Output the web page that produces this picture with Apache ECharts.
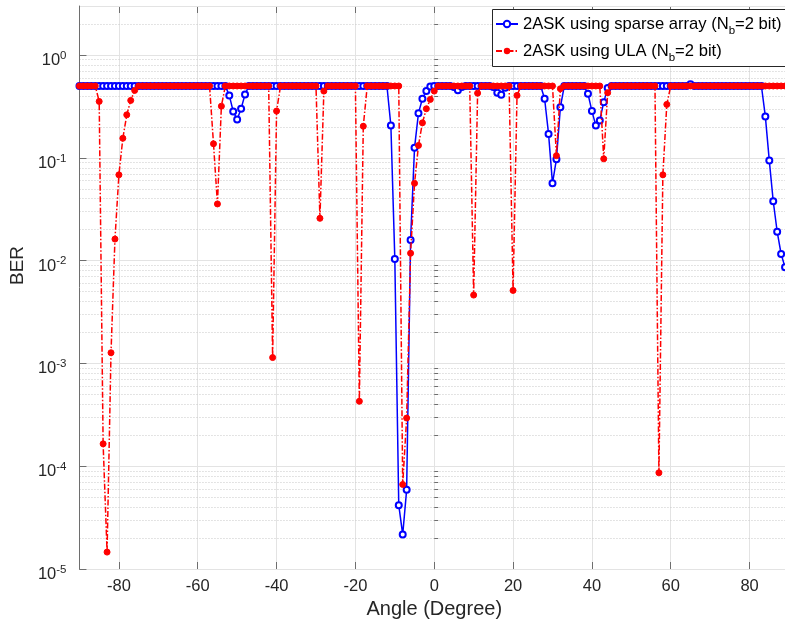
<!DOCTYPE html>
<html>
<head>
<meta charset="utf-8">
<script src="https://cdn.jsdelivr.net/npm/echarts@6/dist/echarts.min.js"></script>
<style>
html,body{margin:0;padding:0;overflow:hidden;background:#ffffff;}
#chart{width:792px;height:625px;}
</style>
</head>
<body>
<div id="chart"></div>
<script>
// Angle samples (degree)
const angles = [
  -90,-89,-88,-87,-86,-85,-84,-83,-82,-81,
  -80,-79,-78,-77,-76,-75,-74,-73,-72,-71,
  -70,-69,-68,-67,-66,-65,-64,-63,-62,-61,
  -60,-59,-58,-57,-56,-55,-54,-53,-52,-51,
  -50,-49,-48,-47,-46,-45,-44,-43,-42,-41,
  -40,-39,-38,-37,-36,-35,-34,-33,-32,-31,
  -30,-29,-28,-27,-26,-25,-24,-23,-22,-21,
  -20,-19,-18,-17,-16,-15,-14,-13,-12,-11,
  -10,-9,-8,-7,-6,-5,-4,-3,-2,-1,
  0,1,2,3,4,5,6,7,8,9,
  10,11,12,13,14,15,16,17,18,19,
  20,21,22,23,24,25,26,27,28,29,
  30,31,32,33,34,35,36,37,38,39,
  40,41,42,43,44,45,46,47,48,49,
  50,51,52,53,54,55,56,57,58,59,
  60,61,62,63,64,65,66,67,68,69,
  70,71,72,73,74,75,76,77,78,79,
  80,81,82,83,84,85,86,87,88,89,
  90
];

// BER, 2ASK using sparse array
const berSparse = [
  0.5,0.5,0.5,0.5,0.5,0.5,0.5,0.5,0.5,0.5,
  0.5,0.5,0.5,0.5,0.5,0.5,0.5,0.5,0.5,0.5,
  0.5,0.5,0.5,0.5,0.5,0.5,0.5,0.5,0.5,0.5,
  0.5,0.5,0.5,0.5,0.5,0.5,0.5,0.5,0.405,0.283,
  0.236,0.30,0.414,0.5,0.5,0.5,0.5,0.5,0.5,0.5,
  0.5,0.5,0.5,0.5,0.5,0.5,0.5,0.5,0.5,0.5,
  0.5,0.5,0.5,0.5,0.5,0.5,0.5,0.5,0.5,0.5,
  0.5,0.5,0.5,0.5,0.5,0.5,0.5,0.5,0.5,0.206,
  0.0104,4.18e-5,2.16e-5,5.89e-5,0.0159,0.125,0.272,0.376,0.446,0.495,
  0.5,0.5,0.5,0.5,0.5,0.49,0.455,0.49,0.5,0.5,
  0.5,0.5,0.5,0.5,0.5,0.49,0.43,0.41,0.48,0.5,
  0.5,0.5,0.5,0.5,0.5,0.5,0.5,0.5,0.376,0.171,
  0.0565,0.097,0.311,0.5,0.5,0.5,0.5,0.5,0.5,0.42,
  0.285,0.206,0.231,0.348,0.477,0.5,0.5,0.5,0.5,0.5,
  0.5,0.5,0.5,0.5,0.5,0.5,0.5,0.5,0.5,0.5,
  0.5,0.5,0.5,0.5,0.5,0.52,0.5,0.5,0.5,0.5,
  0.5,0.5,0.5,0.5,0.5,0.5,0.5,0.5,0.5,0.5,
  0.5,0.5,0.5,0.5,0.253,0.094,0.0378,0.0191,0.0116,0.0086,
  0.0065
];

// BER, 2ASK using ULA
const berULA = [
  0.5,0.5,0.5,0.5,0.5,0.354,1.65e-4,1.46e-5,1.27e-3,0.0162,
  0.0683,0.155,0.262,0.362,0.453,0.5,0.5,0.5,0.5,0.5,
  0.5,0.5,0.5,0.5,0.5,0.5,0.5,0.5,0.5,0.5,
  0.5,0.5,0.5,0.5,0.137,0.0356,0.318,0.5,0.5,0.5,
  0.5,0.5,0.5,0.5,0.5,0.5,0.5,0.5,0.5,1.14e-3,
  0.285,0.5,0.5,0.5,0.5,0.5,0.5,0.5,0.5,0.5,
  0.5,0.0258,0.446,0.5,0.5,0.5,0.5,0.5,0.5,0.5,
  0.5,4.28e-4,0.203,0.5,0.5,0.5,0.5,0.5,0.5,0.5,
  0.5,0.5,6.64e-5,2.94e-4,0.0118,0.0565,0.132,0.219,0.30,0.37,
  0.446,0.5,0.5,0.5,0.5,0.5,0.5,0.5,0.5,0.5,
  4.62e-3,0.426,0.5,0.5,0.5,0.5,0.5,0.5,0.5,0.5,
  5.13e-3,0.405,0.5,0.5,0.5,0.5,0.5,0.5,0.5,0.5,
  0.5,0.105,0.47,0.5,0.5,0.5,0.5,0.5,0.5,0.5,
  0.5,0.5,0.5,0.0978,0.43,0.5,0.5,0.5,0.5,0.5,
  0.5,0.5,0.5,0.5,0.5,0.5,0.5,8.63e-5,0.0683,0.331,
  0.5,0.5,0.5,0.5,0.5,0.5,0.5,0.5,0.5,0.5,
  0.5,0.5,0.5,0.5,0.5,0.5,0.5,0.5,0.5,0.5,
  0.5,0.5,0.5,0.5,0.5,0.5,0.5,0.5,0.5,0.5,
  0.5
];

const seriesNames = ['2ASK using sparse array (N_b=2 bit)', '2ASK using ULA (N_b=2 bit)'];
const xTicks = [-80, -60, -40, -20, 0, 20, 40, 60, 80];
const yMinorTicks = [
  2e-5,3e-5,4e-5,5e-5,6e-5,7e-5,8e-5,9e-5,
  2e-4,3e-4,4e-4,5e-4,6e-4,7e-4,8e-4,9e-4,
  2e-3,3e-3,4e-3,5e-3,6e-3,7e-3,8e-3,9e-3,
  2e-2,3e-2,4e-2,5e-2,6e-2,7e-2,8e-2,9e-2,
  0.2,0.3,0.4,0.5,0.6,0.7,0.8,0.9,
  2
];

const FONT = '"Liberation Sans", Arial, Helvetica, sans-serif';
const AXIS_COLOR = '#6e6e6e';
const TEXT_COLOR = '#262626';

const chart = echarts.init(document.getElementById('chart'), null, {renderer: 'canvas'});

const option = {
  animation: false,
  backgroundColor: '#ffffff',
  textStyle: {fontFamily: FONT},
  grid: {left: 78, top: 6, width: 711, height: 563, containLabel: false},
  graphic: [
    {
      type: 'rect', z: 20, silent: true,
      shape: {x: 492.5, y: 9.5, width: 320, height: 57},
      style: {fill: '#ffffff', stroke: '#262626', lineWidth: 1}
    }
  ],
  legend: {
    orient: 'vertical',
    left: 492,
    top: 9,
    z: 30,
    padding: [2, 14, 4, 3],
    itemGap: 1,
    itemWidth: 22,
    itemHeight: 8,
    borderWidth: 0,
    backgroundColor: 'transparent',
    selectedMode: false,
    data: seriesNames,
    formatter: function (name) { return name.replace('N_b', 'N{sub|b}'); },
    textStyle: {
      fontFamily: FONT, fontSize: 16.6, color: '#000000', lineHeight: 26,
      rich: {sub: {fontFamily: FONT, fontSize: 11.5, color: '#000000', lineHeight: 12, verticalAlign: 'bottom'}}
    }
  },
  xAxis: [
    {
      type: 'value', min: -90, max: 90, position: 'bottom',
      name: 'Angle (Degree)', nameLocation: 'middle', nameGap: 29,
      nameTextStyle: {fontFamily: FONT, fontSize: 20, color: TEXT_COLOR},
      axisLine: {show: true, onZero: false, lineStyle: {color: AXIS_COLOR, width: 1}},
      axisTick: {show: true, inside: true, length: 7, customValues: xTicks, lineStyle: {color: AXIS_COLOR}},
      axisLabel: {show: true, customValues: xTicks, fontFamily: FONT, fontSize: 16.5, color: TEXT_COLOR, margin: 9},
      splitLine: {show: true, lineStyle: {color: '#e3e3e3', width: 1}}
    },
    {
      type: 'value', min: -90, max: 90, position: 'top',
      axisLine: {show: true, onZero: false, lineStyle: {color: AXIS_COLOR, width: 1}},
      axisTick: {show: true, inside: true, length: 7, customValues: xTicks, lineStyle: {color: AXIS_COLOR}},
      axisLabel: {show: false},
      splitLine: {show: false}
    }
  ],
  yAxis: [
    {
      type: 'log', logBase: 10, min: 1e-5, max: 3, position: 'left',
      name: 'BER', nameLocation: 'middle', nameGap: 48,
      nameTextStyle: {fontFamily: FONT, fontSize: 19, color: TEXT_COLOR, padding: [0, 0, 0, 44]},
      axisLine: {show: true, onZero: false, lineStyle: {color: AXIS_COLOR, width: 1}},
      axisTick: {show: true, inside: true, length: 7, lineStyle: {color: AXIS_COLOR}},
      axisLabel: {
        show: true, showMaxLabel: false, margin: 13, padding: [11, 0, 0, 0],
        formatter: function (v) {
          const e = Math.round(Math.log10(v));
          if (Math.abs(Math.log10(v) - e) > 1e-6) return '';
          return '{b|10}{s|' + e + '}';
        },
        rich: {
          b: {fontFamily: FONT, fontSize: 16.5, color: TEXT_COLOR, lineHeight: 22},
          s: {fontFamily: FONT, fontSize: 11.5, color: TEXT_COLOR, lineHeight: 12, verticalAlign: 'top'}
        }
      },
      splitLine: {show: true, lineStyle: {color: '#e3e3e3', width: 1}},
      z: 3
    },
    {
      type: 'log', logBase: 10, min: 1e-5, max: 3, position: 'left',
      axisLine: {show: false},
      axisTick: {show: true, inside: true, length: 4, customValues: yMinorTicks, lineStyle: {color: AXIS_COLOR}},
      axisLabel: {show: false},
      splitLine: {show: true, lineStyle: {color: '#c8c8c8', width: 1, type: [1, 2]}},
      z: 2
    }
  ],
  series: [
    {
      name: seriesNames[0], type: 'line', xAxisIndex: 0, yAxisIndex: 0,
      data: angles.map(function (a, i) { return [a, berSparse[i]]; }),
      symbol: 'emptyCircle', symbolSize: 6, showSymbol: true,
      lineStyle: {color: '#0000ff', width: 1.5},
      itemStyle: {color: '#0000ff', borderColor: '#0000ff', borderWidth: 1.3},
      z: 4
    },
    {
      name: seriesNames[1], type: 'line', xAxisIndex: 0, yAxisIndex: 0,
      data: angles.map(function (a, i) { return [a, berULA[i]]; }),
      symbol: 'circle', symbolSize: 6, showSymbol: true,
      lineStyle: {color: '#ff0000', width: 1.5, type: [6, 2, 1.5, 2]},
      itemStyle: {color: '#ff0000', borderColor: '#ff0000'},
      z: 5
    }
  ]
};

chart.setOption(option);
</script>
</body>
</html>
